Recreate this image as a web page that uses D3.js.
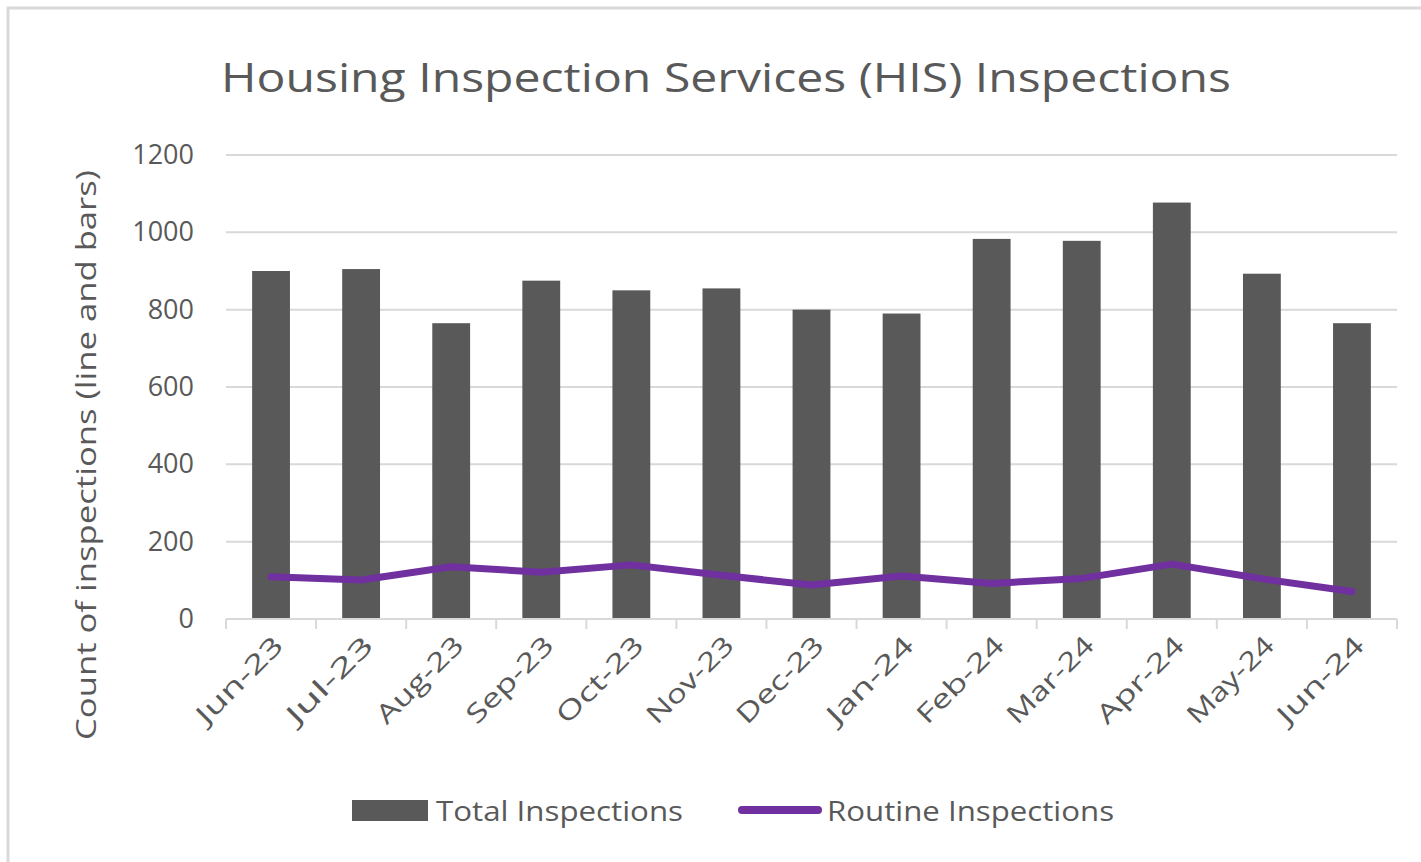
<!DOCTYPE html>
<html>
<head>
<meta charset="utf-8">
<script src="https://cdn.jsdelivr.net/npm/d3@7"></script>
<style>
  body { margin: 0; background: #fff; }
  text { font-family: "Open Sans", "Noto Sans", sans-serif; fill: #595959; }
</style>
</head>
<body>
<svg width="1421" height="862"></svg>
<script>
// chart data
const months = ["Jun-23", "Jul-23", "Aug-23", "Sep-23", "Oct-23", "Nov-23", "Dec-23",
                "Jan-24", "Feb-24", "Mar-24", "Apr-24", "May-24", "Jun-24"];
const totalInspections = [900, 905, 765, 875, 850, 855, 800, 790, 983, 978, 1077, 893, 765];
const routineInspections = [109, 101, 135, 121, 140, 113, 88, 111, 92, 105, 142, 104, 71];
const yTicks = [0, 200, 400, 600, 800, 1000, 1200];

const svg = d3.select("svg");

// outer chart border
svg.append("rect")
    .attr("x", 8).attr("y", 8)
    .attr("width", 1420).attr("height", 860)
    .attr("fill", "none")
    .attr("stroke", "#d9d9d9")
    .attr("stroke-width", 3);

const plotLeft = 226, plotRight = 1397, plotTop = 155, plotBottom = 619;

const x = d3.scaleBand().domain(months).range([plotLeft, plotRight]).paddingInner(0.58).paddingOuter(0.29);
const xc = d3.scalePoint().domain(months).range([plotLeft, plotRight]).padding(0.5);
const y = d3.scaleLinear().domain([0, 1200]).range([plotBottom, plotTop]);

// title
svg.append("text")
    .attr("x", 726).attr("y", 92)
    .attr("text-anchor", "middle")
    .style("font-size", "40px")
    .attr("textLength", 1010)
    .attr("lengthAdjust", "spacingAndGlyphs")
    .text("Housing Inspection Services (HIS) Inspections");

// gridlines
svg.append("g").selectAll("line")
    .data(yTicks.filter(d => d > 0))
    .enter().append("line")
    .attr("x1", plotLeft).attr("x2", plotRight)
    .attr("y1", d => y(d)).attr("y2", d => y(d))
    .attr("stroke", "#d9d9d9")
    .attr("stroke-width", 2);

// y axis labels
const yAxis = svg.append("g")
    .attr("transform", `translate(${plotLeft},0)`)
    .call(d3.axisLeft(y).tickValues(yTicks).tickFormat(d3.format("d")).tickSize(0).tickPadding(32));
yAxis.select(".domain").remove();
yAxis.selectAll("text")
    .style("font-size", "27px")
    .attr("fill", "#595959");

// y axis title
svg.append("text")
    .attr("transform", "translate(96,455) rotate(-90)")
    .attr("text-anchor", "middle")
    .style("font-size", "28px")
    .attr("textLength", 570)
    .attr("lengthAdjust", "spacingAndGlyphs")
    .text("Count of inspections (line and bars)");

// bars
svg.append("g").selectAll("rect")
    .data(totalInspections)
    .enter().append("rect")
    .attr("x", (d, i) => x(months[i]))
    .attr("width", x.bandwidth())
    .attr("y", d => y(d))
    .attr("height", d => y(0) - y(d))
    .attr("fill", "#595959");

// x axis with ticks between categories
svg.append("line")
    .attr("x1", plotLeft).attr("x2", plotRight)
    .attr("y1", plotBottom).attr("y2", plotBottom)
    .attr("stroke", "#d9d9d9").attr("stroke-width", 2);
svg.append("g").selectAll("line")
    .data(d3.range(months.length + 1))
    .enter().append("line")
    .attr("x1", i => plotLeft + i * x.step())
    .attr("x2", i => plotLeft + i * x.step())
    .attr("y1", plotBottom).attr("y2", plotBottom + 10)
    .attr("stroke", "#d9d9d9").attr("stroke-width", 2);

svg.append("g").selectAll("text")
    .data(months)
    .enter().append("text")
    .attr("transform", d => `translate(${xc(d) + 14},${plotBottom + 28}) rotate(-45)`)
    .attr("text-anchor", "end")
    .style("font-size", "26px")
    .attr("textLength", d => d.length * 18.5)
    .attr("lengthAdjust", "spacingAndGlyphs")
    .text(d => d);

// routine line
const line = d3.line()
    .x((d, i) => xc(months[i]))
    .y(d => y(d));
svg.append("path")
    .datum(routineInspections)
    .attr("d", line)
    .attr("fill", "none")
    .attr("stroke", "#7030a0")
    .attr("stroke-width", 7)
    .attr("stroke-linejoin", "round")
    .attr("stroke-linecap", "round");

// legend
const legend = svg.append("g");
legend.append("rect")
    .attr("x", 352).attr("y", 800)
    .attr("width", 76).attr("height", 21)
    .attr("fill", "#595959");
legend.append("text")
    .attr("x", 436).attr("y", 821)
    .style("font-size", "27px")
    .attr("textLength", 247)
    .attr("lengthAdjust", "spacingAndGlyphs")
    .text("Total Inspections");
legend.append("line")
    .attr("x1", 742).attr("x2", 818)
    .attr("y1", 810).attr("y2", 810)
    .attr("stroke", "#7030a0")
    .attr("stroke-width", 8)
    .attr("stroke-linecap", "round");
legend.append("text")
    .attr("x", 827).attr("y", 821)
    .style("font-size", "27px")
    .attr("textLength", 287)
    .attr("lengthAdjust", "spacingAndGlyphs")
    .text("Routine Inspections");
</script>
</body>
</html>
